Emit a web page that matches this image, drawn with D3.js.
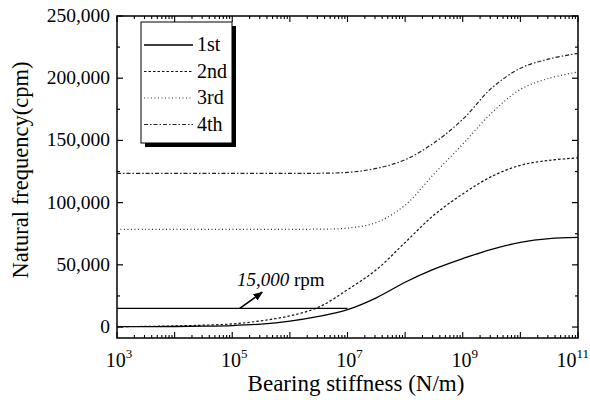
<!DOCTYPE html>
<html><head><meta charset="utf-8">
<script src="https://cdn.jsdelivr.net/npm/d3@7"></script>
</head><body style="margin:0">
<svg id="c" width="590" height="400" style="display:block;font-family:'Times New Roman'"></svg>
<script>
const logK = [3,3.5,4,4.5,5,5.5,6,6.5,7,7.5,8,8.5,9,9.5,10,10.5,11];
const first  = [300,350,450,700,1200,2400,4800,8600,14000,23500,36000,46500,55000,62500,68000,71000,72000];
const second = [400,500,900,1500,2500,5000,9000,16000,30000,46000,68000,90000,107000,121000,130000,134000,136000];
const third  = [78500,78500,78500,78500,78500,78500,78500,78700,79500,84000,98000,123000,147000,172000,191000,200000,205000];
const fourth = [123500,123500,123500,123500,123500,123500,123500,123600,124300,127500,134500,148000,167000,192000,208000,215500,220000];
const seriesNames = ["1st","2nd","3rd","4th"];
const rpmLine = [[3,15000],[7,15000]];
const rpmLabel = "15,000 rpm";
const yTicks = [0,50000,100000,150000,200000,250000];
const xLabelExps = [3,5,7,9,11];

const FONT = "Times New Roman";
const svg = d3.select("#c");
const txt = (sel)=>sel.append("text").style("font-family",FONT).attr("fill","#000");
const m = {l:117,t:16,r:578,b:338};
const x = d3.scaleLinear().domain([3,11]).range([m.l,m.r]);
const y = d3.scaleLinear().domain([-8800,250000]).range([m.b,m.t]);

svg.append("rect").attr("x",m.l).attr("y",m.t).attr("width",m.r-m.l).attr("height",m.b-m.t)
  .attr("fill","none").attr("stroke","#000").attr("stroke-width",1.5);

d3.range(0,250001,25000).forEach(v=>{
  const major = v%50000===0, len = major?6:3;
  svg.append("line").attr("x1",m.l).attr("x2",m.l+len).attr("y1",y(v)).attr("y2",y(v)).attr("stroke","#000").attr("stroke-width",1.2);
  svg.append("line").attr("x1",m.r).attr("x2",m.r-len).attr("y1",y(v)).attr("y2",y(v)).attr("stroke","#000").attr("stroke-width",1.2);
});
yTicks.forEach(d=>{
  txt(svg).attr("x",m.l-7).attr("y",y(d)+6).attr("text-anchor","end").attr("font-size",19.5)
    .text(d3.format(",")(d));
});

for(let e=3;e<=11;e++){
  for(let k=1;k<=9;k++){
    if(e===11 && k>1) break;
    const xv = x(e+Math.log10(k)), len = k===1?6:3;
    svg.append("line").attr("x1",xv).attr("x2",xv).attr("y1",m.b).attr("y2",m.b-len).attr("stroke","#000").attr("stroke-width",1.1);
    svg.append("line").attr("x1",xv).attr("x2",xv).attr("y1",m.t).attr("y2",m.t+len).attr("stroke","#000").attr("stroke-width",1.1);
  }
}
xLabelExps.forEach((e,i)=>{
  const last = i===xLabelExps.length-1;
  const t = txt(svg).attr("x",last?589:x(e)+2).attr("y",367)
    .attr("text-anchor",last?"end":"middle").attr("font-size",20);
  t.append("tspan").text("10");
  t.append("tspan").attr("dy",-9).attr("font-size",13).text(e);
});

txt(svg).attr("x",356).attr("y",391).attr("text-anchor","middle").attr("font-size",23).text("Bearing stiffness (N/m)");
txt(svg).attr("transform","translate(28,170) rotate(-90)").attr("text-anchor","middle").attr("font-size",22.5).text("Natural frequency(cpm)");

const line = d3.line().x(d=>x(d[0])).y(d=>y(d[1])).curve(d3.curveCatmullRom.alpha(0.5));
const styles = [
  {dash:null,w:1.3,c:"#000"},
  {dash:"2.5,2",w:1.2,c:"#111"},
  {dash:"1,2.5",w:1.2,c:"#333"},
  {dash:"4,2,1.5,2",w:1.2,c:"#222"}
];
[first,second,third,fourth].forEach((s,i)=>{
  svg.append("path").datum(logK.map((k,j)=>[k,s[j]])).attr("d",line)
    .attr("fill","none").attr("stroke",styles[i].c).attr("stroke-width",styles[i].w)
    .attr("stroke-dasharray",styles[i].dash);
});

svg.append("path").datum(rpmLine).attr("d",d3.line().x(d=>x(d[0])).y(d=>y(d[1])))
  .attr("stroke","#000").attr("stroke-width",1.3).attr("fill","none");
svg.append("defs").append("marker").attr("id","ar").attr("viewBox","0 0 10 10").attr("refX",9).attr("refY",5)
  .attr("markerWidth",6).attr("markerHeight",6).attr("orient","auto")
  .append("path").attr("d","M0,1L10,5L0,9Z").attr("fill","#000");
svg.append("line").attr("x1",x(5.13)).attr("y1",y(15000)).attr("x2",x(5.52)).attr("y2",y(28000))
  .attr("stroke","#000").attr("stroke-width",1.6).attr("marker-end","url(#ar)");
const rl = txt(svg).attr("x",237).attr("y",286).attr("font-size",19);
rl.append("tspan").attr("font-style","italic").text(rpmLabel.split(" ")[0]);
rl.append("tspan").text(" "+rpmLabel.split(" ")[1]);

const lg = {x:141,y:22,w:91,h:121};
svg.append("rect").attr("x",lg.x+4).attr("y",lg.y+4).attr("width",lg.w).attr("height",lg.h).attr("fill","#000");
svg.append("rect").attr("x",lg.x).attr("y",lg.y).attr("width",lg.w).attr("height",lg.h).attr("fill","#fff").attr("stroke","#000").attr("stroke-width",1);
seriesNames.forEach((n,i)=>{
  const yy = 45+i*26.5;
  svg.append("line").attr("x1",lg.x+3).attr("x2",lg.x+52).attr("y1",yy).attr("y2",yy)
    .attr("stroke",styles[i].c).attr("stroke-width",styles[i].w).attr("stroke-dasharray",styles[i].dash);
  txt(svg).attr("x",lg.x+56).attr("y",yy+6).attr("font-size",20).text(n);
});
</script></body></html>
